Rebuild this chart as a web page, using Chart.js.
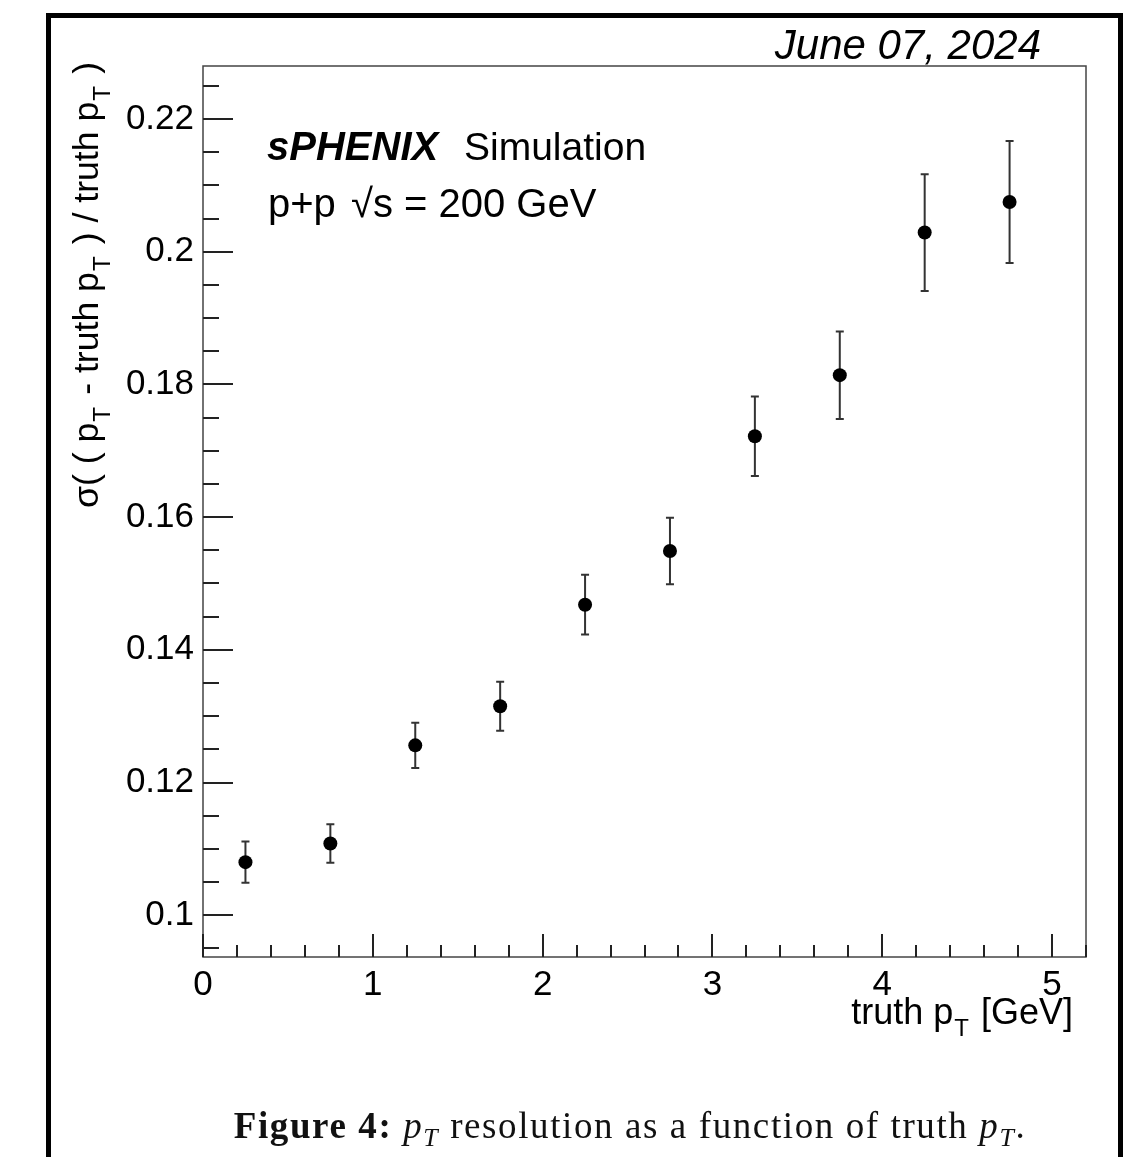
<!DOCTYPE html>
<html>
<head>
<meta charset="utf-8">
<script src="https://cdn.jsdelivr.net/npm/chart.js@4.4.1/dist/chart.umd.min.js"></script>
<style>
  html, body { margin: 0; padding: 0; background: #fff; }
  #wrap { position: relative; width: 1127px; height: 1157px; overflow: hidden; }
  #frame {
    position: absolute; left: 46px; top: 13px; width: 1067px; height: 1200px;
    border: 5px solid #000; box-sizing: content-box;
  }
  canvas { position: absolute; left: 0; top: 0; }
  #caption {
    position: absolute; left: 0; width: 1127px; top: 1104px; text-align: center;
    font-family: "Liberation Serif", "DejaVu Serif", serif; font-size: 37px; color: #111;
    letter-spacing: 1.6px; padding-left: 133px; box-sizing: border-box; white-space: nowrap;
  }
  #caption b { font-weight: bold; }
  #caption sub { font-size: 0.7em; }
</style>
</head>
<body>
<div id="wrap">
  <div id="frame"></div>
  <canvas id="c" width="1127" height="1157"></canvas>
  <div id="caption"><b>Figure 4:</b> <i>p<sub>T</sub></i> resolution as a function of truth <i>p<sub>T</sub></i>.</div>
</div>
<script>
// Bin centres of truth pT [GeV]
const ptBins = [0.25, 0.75, 1.25, 1.75, 2.25, 2.75, 3.25, 3.75, 4.25, 4.75];
// Relative pT resolution sigma((pT - truth pT)/truth pT) per bin
const resolution = [0.1080, 0.1108, 0.1256, 0.1315, 0.1468, 0.1549, 0.1722, 0.1814, 0.2029, 0.2075];
// Statistical uncertainty on each resolution value
const resolutionErr = [0.0031, 0.0029, 0.0034, 0.0037, 0.0045, 0.0050, 0.0060, 0.0066, 0.0088, 0.0092];
// Axis tick values
const xMajorTicks = [0, 1, 2, 3, 4, 5];
const yMajorTicks = [0.10, 0.12, 0.14, 0.16, 0.18, 0.20, 0.22];
const xMinorStep = 0.2;
const yMinorStep = 0.005;

const SANS = '"Liberation Sans", Arial, Helvetica, sans-serif';

// Draw a run of text segments, some of them subscripts, starting at (0,0) baseline
function drawRich(ctx, parts, size) {
  let x = 0;
  for (const p of parts) {
    if (p.sub) {
      ctx.font = (p.style || '') + ' ' + Math.round(size * 0.68) + 'px ' + SANS;
      ctx.fillText(p.t, x + 1, size * 0.33);
      x += ctx.measureText(p.t).width + 3;
    } else {
      ctx.font = (p.style || '') + ' ' + size + 'px ' + SANS;
      ctx.fillText(p.t, x, 0);
      x += ctx.measureText(p.t).width;
    }
  }
  return x;
}
function measureRich(ctx, parts, size) {
  let w = 0;
  for (const p of parts) {
    ctx.font = (p.style || '') + ' ' + (p.sub ? Math.round(size * 0.68) : size) + 'px ' + SANS;
    w += ctx.measureText(p.t).width + (p.sub ? 3 : 0);
  }
  return w;
}

const rootStyle = {
  id: 'rootStyle',
  beforeDatasetsDraw(chart) {
    const { ctx, scales: { x, y } } = chart;
    // error bars
    ctx.save();
    ctx.strokeStyle = '#333';
    ctx.lineWidth = 2;
    for (let i = 0; i < ptBins.length; i++) {
      const px = x.getPixelForValue(ptBins[i]);
      const yt = y.getPixelForValue(resolution[i] + resolutionErr[i]);
      const yb = y.getPixelForValue(resolution[i] - resolutionErr[i]);
      ctx.beginPath();
      ctx.moveTo(px, yt); ctx.lineTo(px, yb);
      ctx.moveTo(px - 4, yt); ctx.lineTo(px + 4, yt);
      ctx.moveTo(px - 4, yb); ctx.lineTo(px + 4, yb);
      ctx.stroke();
    }
    ctx.restore();
  },
  afterDraw(chart) {
    const { ctx, chartArea: a, scales: { x, y } } = chart;
    ctx.save();
    // plot frame
    ctx.strokeStyle = '#444';
    ctx.lineWidth = 1.5;
    ctx.strokeRect(a.left, a.top, a.right - a.left, a.bottom - a.top);
    // axis ticks pointing into the frame
    ctx.strokeStyle = '#222';
    ctx.lineWidth = 2;
    ctx.beginPath();
    const xMin = x.min, xMax = x.max;
    for (let k = 0; xMin + k * xMinorStep <= xMax + 1e-9; k++) {
      const v = xMin + k * xMinorStep;
      const major = Math.abs(v - Math.round(v)) < 1e-6;
      const px = Math.round(x.getPixelForValue(v));
      ctx.moveTo(px, a.bottom);
      ctx.lineTo(px, a.bottom - (major ? 23 : 12));
    }
    const yStart = Math.ceil(y.min / yMinorStep - 1e-6) * yMinorStep;
    for (let k = 0; yStart + k * yMinorStep <= y.max + 1e-9; k++) {
      const v = yStart + k * yMinorStep;
      const major = yMajorTicks.some(t => Math.abs(t - v) < 1e-6);
      const py = Math.round(y.getPixelForValue(v));
      ctx.moveTo(a.left, py);
      ctx.lineTo(a.left + (major ? 30 : 16), py);
    }
    ctx.stroke();

    ctx.fillStyle = '#000';
    ctx.textBaseline = 'alphabetic';
    // date stamp
    ctx.font = 'italic 42px ' + SANS;
    ctx.textAlign = 'right';
    ctx.fillText('June 07, 2024', 1041, 59);
    // experiment label
    ctx.textAlign = 'left';
    ctx.font = 'italic bold 40px ' + SANS;
    ctx.fillText('sPHENIX', 267, 160);
    ctx.font = '39px ' + SANS;
    ctx.fillText('Simulation', 464, 160);
    ctx.font = '40px ' + SANS;
    ctx.fillText('p+p', 268, 217);
    const w1 = ctx.measureText('p+p ').width;
    ctx.fillText('\u221As = 200 GeV', 268 + w1 + 4, 217);

    // x axis title
    const xParts = [{ t: 'truth p' }, { t: 'T', sub: true }, { t: ' [GeV]' }];
    const xs = 36;
    const xw = measureRich(ctx, xParts, xs);
    ctx.save();
    ctx.translate(1073 - xw, 1024);
    drawRich(ctx, xParts, xs);
    ctx.restore();

    // y axis title
    const yParts = [
      { t: '\u03C3( ( p' }, { t: 'T', sub: true }, { t: ' - truth p' }, { t: 'T', sub: true },
      { t: ' ) / truth p' }, { t: 'T', sub: true }, { t: ' )' }
    ];
    const ys = 35;
    const yw = measureRich(ctx, yParts, ys);
    ctx.save();
    ctx.translate(98, 508);
    ctx.rotate(-Math.PI / 2);
    ctx.scale((508 - 62) / yw, 1);
    drawRich(ctx, yParts, ys);
    ctx.restore();

    ctx.restore();
  }
};

new Chart(document.getElementById('c'), {
  type: 'scatter',
  data: {
    datasets: [{
      data: ptBins.map((v, i) => ({ x: v, y: resolution[i] })),
      pointRadius: 7,
      pointHoverRadius: 7,
      pointBackgroundColor: '#000',
      pointBorderColor: '#000',
      pointBorderWidth: 0
    }]
  },
  options: {
    responsive: false,
    devicePixelRatio: 1,
    animation: false,
    events: [],
    layout: { padding: { left: 0, top: 66, right: 41, bottom: 140 } },
    plugins: { legend: { display: false }, tooltip: { enabled: false } },
    scales: {
      x: {
        type: 'linear',
        min: 0,
        max: 5.2,
        afterBuildTicks: s => { s.ticks = xMajorTicks.map(v => ({ value: v })); },
        afterFit: s => { s.height = 60; },
        grid: { display: false, drawTicks: false },
        border: { display: false },
        ticks: {
          color: '#000',
          font: { family: SANS, size: 35 },
          padding: 7,
          maxRotation: 0,
          autoSkip: false,
          callback: v => String(v)
        }
      },
      y: {
        type: 'linear',
        min: 0.0937,
        max: 0.228,
        afterBuildTicks: s => { s.ticks = yMajorTicks.map(v => ({ value: v })); },
        afterFit: s => { s.width = 203; },
        grid: { display: false, drawTicks: false },
        border: { display: false },
        ticks: {
          color: '#000',
          font: { family: SANS, size: 35 },
          padding: 9,
          autoSkip: false,
          callback: v => String(Math.round(v * 100) / 100)
        }
      }
    }
  },
  plugins: [rootStyle]
});
</script>
</body>
</html>
